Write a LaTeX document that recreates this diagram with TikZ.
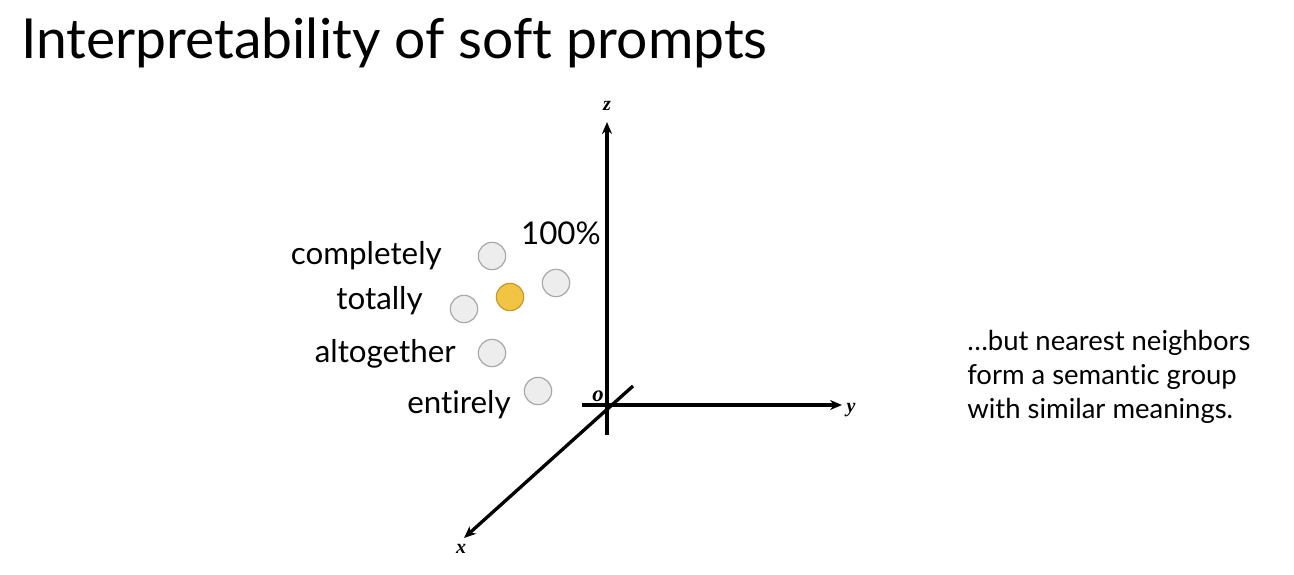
\documentclass[tikz,border=0pt]{standalone}
\usepackage{fontspec}
\setmainfont{Lato}[Ligatures={NoCommon,NoDiscretionary,NoRare}]
\newfontfamily\axisfont{Liberation Serif}
\usetikzlibrary{arrows.meta}
\definecolor{dotgray}{HTML}{EDEDED}
\definecolor{dotedge}{HTML}{A8A8A8}
\definecolor{dotyellow}{HTML}{F2C443}
\definecolor{yedge}{HTML}{C49A2E}
\begin{document}
\begin{tikzpicture}[x=0.75pt,y=-0.75pt,
  axis/.style={line width=2.5pt,-{Stealth[length=9pt,width=7.5pt]}},
  dot/.style={circle,draw=dotedge,fill=dotgray,line width=0.9pt,minimum size=20.5pt,inner sep=0pt},
  ydot/.style={dot,fill=dotyellow,draw=yedge},
  word/.style={font=\fontsize{23.5}{28}\selectfont,inner sep=0pt,anchor=east},
  axlab/.style={font=\axisfont\bfseries\itshape\fontsize{15}{17}\selectfont,inner sep=0pt}]
\useasboundingbox (0,0) rectangle (1294,574);
\node[font=\fontsize{41.4}{48}\selectfont,anchor=west,inner sep=0pt] (title) at (21,43) {Interpretability of soft prompts};
% axes
\coordinate (zb) at (607,435);
\coordinate (zt) at (607,122);
\coordinate (yb) at (582,405);
\coordinate (yt) at (842,405);
\coordinate (xb) at (633,386);
\coordinate (xt) at (464,538);
\draw[axis] (zb) -- (zt);
\draw[axis] (yb) -- (yt);
\draw[axis] (xb) -- (xt);
\node[axlab] (zl) at (607,106) {z};
\node[axlab] (yl) at (851,410) {y};
\node[axlab] (xl) at (461,549) {x};
\node[axlab,font=\axisfont\bfseries\itshape\fontsize{17}{19}\selectfont] (ol) at (598,396) {o};
% dots
\node[dot] (d1) at (492,256) {};
\node[dot] (d2) at (556,283) {};
\node[ydot] (d3) at (510,297) {};
\node[dot] (d4) at (464,309) {};
\node[dot] (d5) at (492,353) {};
\node[dot] (d6) at (538,391) {};
% labels
\node[word] (w1) at (442,256) {completely};
\node[word] (w2) at (423,301) {totally};
\node[word] (w3) at (456,354) {altogether};
\node[word] (w4) at (511,405) {entirely};
\node[word] (w5) at (601,233) {100\%};
\node[font=\fontsize{20.6}{25.5}\selectfont,anchor=north west,align=left,inner sep=0pt] (note) at (967,330)
  {…but nearest neighbors\\form a semantic group\\with similar meanings.};
\end{tikzpicture}
\end{document}
